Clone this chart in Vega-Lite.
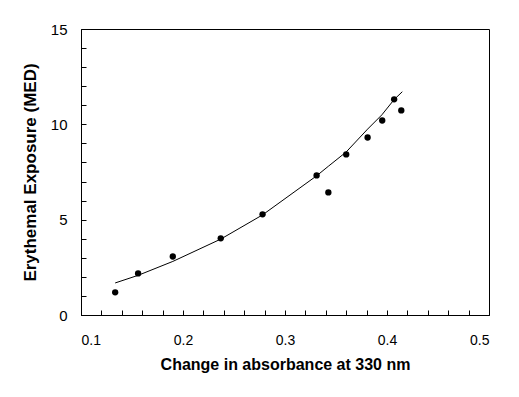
{
  "$schema": "https://vega.github.io/schema/vega-lite/v6.json",
  "width": 408,
  "height": 286,
  "autosize": "none",
  "padding": {"left": 81, "top": 29, "right": 30, "bottom": 82},
  "background": "white",
  "config": {
    "font": "Liberation Sans",
    "view": {"stroke": "black", "strokeWidth": 1},
    "axis": {
      "grid": false,
      "domainColor": "black",
      "tickColor": "black",
      "tickWidth": 1,
      "labelColor": "black",
      "titleColor": "black",
      "labelFont": "Liberation Sans",
      "titleFont": "Liberation Sans",
      "labelFontSize": 14,
      "titleFontSize": 16,
      "titleFontWeight": "bold",
      "labelFontWeight": "normal"
    }
  },
  "datasets": {
    "points": [
      {"x": 0.1335, "y": 1.19},
      {"x": 0.156, "y": 2.18},
      {"x": 0.190, "y": 3.07},
      {"x": 0.237, "y": 4.02},
      {"x": 0.278, "y": 5.28},
      {"x": 0.331, "y": 7.32},
      {"x": 0.3425, "y": 6.43},
      {"x": 0.360, "y": 8.42},
      {"x": 0.381, "y": 9.31},
      {"x": 0.3953, "y": 10.2},
      {"x": 0.407, "y": 11.31},
      {"x": 0.414, "y": 10.73}
    ],
    "curve": [
      {"x": 0.1335, "y": 1.68},
      {"x": 0.156, "y": 2.08},
      {"x": 0.190, "y": 2.81},
      {"x": 0.237, "y": 3.98},
      {"x": 0.278, "y": 5.25},
      {"x": 0.331, "y": 7.3},
      {"x": 0.3425, "y": 7.8},
      {"x": 0.360, "y": 8.55},
      {"x": 0.381, "y": 9.75},
      {"x": 0.395, "y": 10.5},
      {"x": 0.407, "y": 11.3},
      {"x": 0.415, "y": 11.71}
    ]
  },
  "encoding": {
    "x": {
      "field": "x", "type": "quantitative",
      "scale": {"domain": [0.1, 0.5], "nice": false, "zero": false},
      "axis": {
        "title": "Change in absorbance at 330 nm",
        "values": [0.1,0.12,0.14,0.16,0.18,0.2,0.22,0.24,0.26,0.28,0.3,0.32,0.34,0.36,0.38,0.4,0.42,0.44,0.46,0.48,0.5],
        "labelExpr": "abs(datum.value*10 - round(datum.value*10)) < 0.001 ? format(datum.value, '.1f') : ''",
        "labelOverlap": false,
        "ticks": true,
        "tickSize": -5,
        "labelFontSize": 14,
        "titleFontSize": 16,
        "labelPadding": 23,
        "titlePadding": 9
      }
    },
    "y": {
      "field": "y", "type": "quantitative",
      "scale": {"domain": [0, 15], "nice": false},
      "axis": {
        "title": "Erythemal Exposure (MED)",
        "values": [0,1,2,3,4,5,6,7,8,9,10,11,12,13,14,15],
        "labelExpr": "datum.value % 5 === 0 ? format(datum.value, 'd') : ''",
        "labelOverlap": false,
        "ticks": true,
        "tickSize": -5,
        "labelFontSize": 15,
        "titleFontSize": 17,
        "labelPadding": 19,
        "titlePadding": 11
      }
    }
  },
  "layer": [
    {
      "data": {"name": "curve"},
      "mark": {"type": "line", "color": "black", "strokeWidth": 1}
    },
    {
      "data": {"name": "points"},
      "mark": {"type": "circle", "color": "black", "opacity": 1, "size": 40}
    }
  ]
}
